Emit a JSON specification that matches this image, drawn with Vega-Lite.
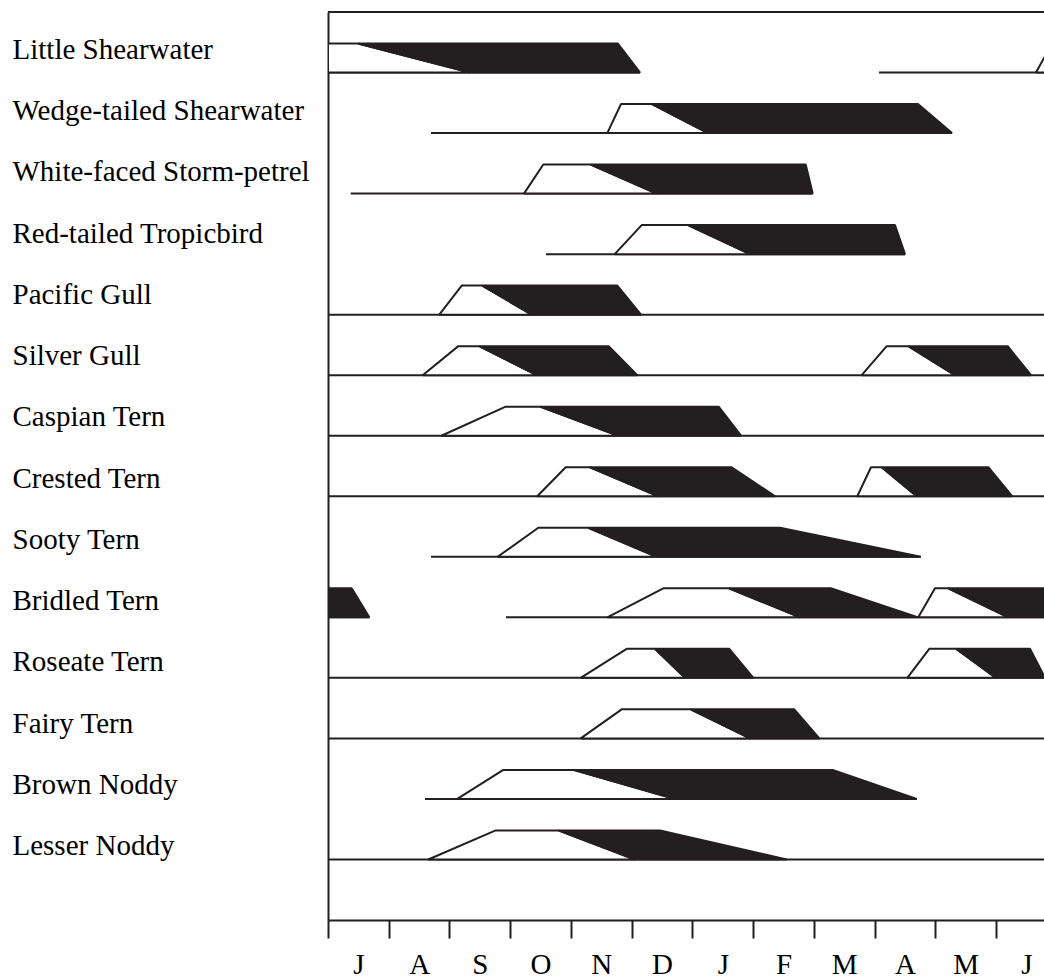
{
  "$schema": "https://vega.github.io/schema/vega-lite/v6.json",
  "width": 716,
  "height": 908,
  "autosize": {"type": "none"},
  "padding": {"left": 328, "top": 12, "right": 0, "bottom": 58},
  "background": "white",
  "config": {"view": {"stroke": null}},
  "datasets": {
    "shapes": [
      {"p": "W0a", "part": "white", "x": 0, "y": 0.52, "y2": 1},
      {"p": "W0a", "part": "white", "x": 0.494, "y": 0.52, "y2": 1},
      {"p": "W0a", "part": "white", "x": 2.338, "y": 1, "y2": 1},
      {"p": "B0a", "part": "black", "x": 0.494, "y": 0.52, "y2": 0.52},
      {"p": "B0a", "part": "black", "x": 2.338, "y": 0.52, "y2": 1},
      {"p": "B0a", "part": "black", "x": 4.77, "y": 0.52, "y2": 1},
      {"p": "B0a", "part": "black", "x": 5.138, "y": 1, "y2": 1},
      {"p": "W0b", "part": "white", "x": 11.658, "y": 1, "y2": 1},
      {"p": "W0b", "part": "white", "x": 11.922, "y": 0.52, "y2": 1},
      {"p": "W0b", "part": "white", "x": 12.5, "y": 0.52, "y2": 1},

      {"p": "W1", "part": "white", "x": 4.599, "y": 2, "y2": 2},
      {"p": "W1", "part": "white", "x": 4.825, "y": 1.52, "y2": 2},
      {"p": "W1", "part": "white", "x": 5.335, "y": 1.52, "y2": 2},
      {"p": "W1", "part": "white", "x": 6.257, "y": 2, "y2": 2},
      {"p": "B1", "part": "black", "x": 5.335, "y": 1.52, "y2": 1.52},
      {"p": "B1", "part": "black", "x": 6.257, "y": 1.52, "y2": 2},
      {"p": "B1", "part": "black", "x": 9.715, "y": 1.52, "y2": 2},
      {"p": "B1", "part": "black", "x": 10.275, "y": 2, "y2": 2},

      {"p": "W2", "part": "white", "x": 3.227, "y": 3, "y2": 3},
      {"p": "W2", "part": "white", "x": 3.545, "y": 2.52, "y2": 3},
      {"p": "W2", "part": "white", "x": 4.326, "y": 2.52, "y2": 3},
      {"p": "W2", "part": "white", "x": 5.412, "y": 3, "y2": 3},
      {"p": "B2", "part": "black", "x": 4.326, "y": 2.52, "y2": 2.52},
      {"p": "B2", "part": "black", "x": 5.412, "y": 2.52, "y2": 3},
      {"p": "B2", "part": "black", "x": 7.866, "y": 2.52, "y2": 3},
      {"p": "B2", "part": "black", "x": 7.981, "y": 3, "y2": 3},

      {"p": "W3", "part": "white", "x": 4.721, "y": 4, "y2": 4},
      {"p": "W3", "part": "white", "x": 5.165, "y": 3.52, "y2": 4},
      {"p": "W3", "part": "white", "x": 5.928, "y": 3.52, "y2": 4},
      {"p": "W3", "part": "white", "x": 6.949, "y": 4, "y2": 4},
      {"p": "B3", "part": "black", "x": 5.928, "y": 3.52, "y2": 3.52},
      {"p": "B3", "part": "black", "x": 6.949, "y": 3.52, "y2": 4},
      {"p": "B3", "part": "black", "x": 9.336, "y": 3.52, "y2": 4},
      {"p": "B3", "part": "black", "x": 9.501, "y": 4, "y2": 4},

      {"p": "W4", "part": "white", "x": 1.833, "y": 5, "y2": 5},
      {"p": "W4", "part": "white", "x": 2.202, "y": 4.52, "y2": 5},
      {"p": "W4", "part": "white", "x": 2.541, "y": 4.52, "y2": 5},
      {"p": "W4", "part": "white", "x": 3.354, "y": 5, "y2": 5},
      {"p": "B4", "part": "black", "x": 2.541, "y": 4.52, "y2": 4.52},
      {"p": "B4", "part": "black", "x": 3.354, "y": 4.52, "y2": 5},
      {"p": "B4", "part": "black", "x": 4.764, "y": 4.52, "y2": 5},
      {"p": "B4", "part": "black", "x": 5.154, "y": 5, "y2": 5},

      {"p": "W5a", "part": "white", "x": 1.559, "y": 6, "y2": 6},
      {"p": "W5a", "part": "white", "x": 2.146, "y": 5.52, "y2": 6},
      {"p": "W5a", "part": "white", "x": 2.491, "y": 5.52, "y2": 6},
      {"p": "W5a", "part": "white", "x": 3.437, "y": 6, "y2": 6},
      {"p": "B5a", "part": "black", "x": 2.491, "y": 5.52, "y2": 5.52},
      {"p": "B5a", "part": "black", "x": 3.437, "y": 5.52, "y2": 6},
      {"p": "B5a", "part": "black", "x": 4.622, "y": 5.52, "y2": 6},
      {"p": "B5a", "part": "black", "x": 5.093, "y": 6, "y2": 6},
      {"p": "W5b", "part": "white", "x": 8.788, "y": 6, "y2": 6},
      {"p": "W5b", "part": "white", "x": 9.2, "y": 5.52, "y2": 6},
      {"p": "W5b", "part": "white", "x": 9.555, "y": 5.52, "y2": 6},
      {"p": "W5b", "part": "white", "x": 10.324, "y": 6, "y2": 6},
      {"p": "B5b", "part": "black", "x": 9.555, "y": 5.52, "y2": 5.52},
      {"p": "B5b", "part": "black", "x": 10.324, "y": 5.52, "y2": 6},
      {"p": "B5b", "part": "black", "x": 11.192, "y": 5.52, "y2": 6},
      {"p": "B5b", "part": "black", "x": 11.576, "y": 6, "y2": 6},

      {"p": "W6", "part": "white", "x": 1.867, "y": 7, "y2": 7},
      {"p": "W6", "part": "white", "x": 2.926, "y": 6.52, "y2": 7},
      {"p": "W6", "part": "white", "x": 3.491, "y": 6.52, "y2": 7},
      {"p": "W6", "part": "white", "x": 4.78, "y": 7, "y2": 7},
      {"p": "B6", "part": "black", "x": 3.491, "y": 6.52, "y2": 6.52},
      {"p": "B6", "part": "black", "x": 4.78, "y": 6.52, "y2": 7},
      {"p": "B6", "part": "black", "x": 6.433, "y": 6.52, "y2": 7},
      {"p": "B6", "part": "black", "x": 6.801, "y": 7, "y2": 7},

      {"p": "W7a", "part": "white", "x": 3.446, "y": 8, "y2": 8},
      {"p": "W7a", "part": "white", "x": 3.914, "y": 7.52, "y2": 8},
      {"p": "W7a", "part": "white", "x": 4.314, "y": 7.52, "y2": 8},
      {"p": "W7a", "part": "white", "x": 5.439, "y": 8, "y2": 8},
      {"p": "B7a", "part": "black", "x": 4.314, "y": 7.52, "y2": 7.52},
      {"p": "B7a", "part": "black", "x": 5.439, "y": 7.52, "y2": 8},
      {"p": "B7a", "part": "black", "x": 6.647, "y": 7.52, "y2": 8},
      {"p": "B7a", "part": "black", "x": 7.361, "y": 8, "y2": 8},
      {"p": "W7b", "part": "white", "x": 8.716, "y": 8, "y2": 8},
      {"p": "W7b", "part": "white", "x": 8.941, "y": 7.52, "y2": 8},
      {"p": "W7b", "part": "white", "x": 9.117, "y": 7.52, "y2": 8},
      {"p": "W7b", "part": "white", "x": 9.694, "y": 8, "y2": 8},
      {"p": "B7b", "part": "black", "x": 9.117, "y": 7.52, "y2": 7.52},
      {"p": "B7b", "part": "black", "x": 9.694, "y": 7.52, "y2": 8},
      {"p": "B7b", "part": "black", "x": 10.873, "y": 7.52, "y2": 8},
      {"p": "B7b", "part": "black", "x": 11.268, "y": 8, "y2": 8},

      {"p": "W8", "part": "white", "x": 2.794, "y": 9, "y2": 9},
      {"p": "W8", "part": "white", "x": 3.463, "y": 8.52, "y2": 9},
      {"p": "W8", "part": "white", "x": 4.286, "y": 8.52, "y2": 9},
      {"p": "W8", "part": "white", "x": 5.412, "y": 9, "y2": 9},
      {"p": "B8", "part": "black", "x": 4.286, "y": 8.52, "y2": 8.52},
      {"p": "B8", "part": "black", "x": 5.412, "y": 8.52, "y2": 9},
      {"p": "B8", "part": "black", "x": 7.443, "y": 8.52, "y2": 9},
      {"p": "B8", "part": "black", "x": 9.76, "y": 9, "y2": 9},

      {"p": "B9a", "part": "black", "x": 0, "y": 9.52, "y2": 10},
      {"p": "B9a", "part": "black", "x": 0.39, "y": 9.52, "y2": 10},
      {"p": "B9a", "part": "black", "x": 0.68, "y": 10, "y2": 10},
      {"p": "W9", "part": "white", "x": 4.599, "y": 10, "y2": 10},
      {"p": "W9", "part": "white", "x": 5.521, "y": 9.52, "y2": 10},
      {"p": "W9", "part": "white", "x": 6.603, "y": 9.52, "y2": 10},
      {"p": "W9", "part": "white", "x": 7.772, "y": 10, "y2": 10},
      {"p": "B9", "part": "black", "x": 6.603, "y": 9.52, "y2": 9.52},
      {"p": "B9", "part": "black", "x": 7.772, "y": 9.52, "y2": 10},
      {"p": "B9", "part": "black", "x": 8.278, "y": 9.52, "y2": 10},
      {"p": "B9", "part": "black", "x": 9.72, "y": 10, "y2": 10},
      {"p": "W9b", "part": "white", "x": 9.72, "y": 10, "y2": 10},
      {"p": "W9b", "part": "white", "x": 9.995, "y": 9.52, "y2": 10},
      {"p": "W9b", "part": "white", "x": 10.214, "y": 9.52, "y2": 10},
      {"p": "W9b", "part": "white", "x": 11.202, "y": 10, "y2": 10},
      {"p": "B9b", "part": "black", "x": 10.214, "y": 9.52, "y2": 9.52},
      {"p": "B9b", "part": "black", "x": 11.202, "y": 9.52, "y2": 10},
      {"p": "B9b", "part": "black", "x": 12.39, "y": 9.52, "y2": 10},
      {"p": "B9b", "part": "black", "x": 12.68, "y": 10, "y2": 10},

      {"p": "W10a", "part": "white", "x": 4.161, "y": 11, "y2": 11},
      {"p": "W10a", "part": "white", "x": 4.918, "y": 10.52, "y2": 11},
      {"p": "W10a", "part": "white", "x": 5.384, "y": 10.52, "y2": 11},
      {"p": "W10a", "part": "white", "x": 5.878, "y": 11, "y2": 11},
      {"p": "B10a", "part": "black", "x": 5.384, "y": 10.52, "y2": 10.52},
      {"p": "B10a", "part": "black", "x": 5.878, "y": 10.52, "y2": 11},
      {"p": "B10a", "part": "black", "x": 6.608, "y": 10.52, "y2": 11},
      {"p": "B10a", "part": "black", "x": 7.003, "y": 11, "y2": 11},
      {"p": "W10b", "part": "white", "x": 9.539, "y": 11, "y2": 11},
      {"p": "W10b", "part": "white", "x": 9.901, "y": 10.52, "y2": 11},
      {"p": "W10b", "part": "white", "x": 10.341, "y": 10.52, "y2": 11},
      {"p": "W10b", "part": "white", "x": 10.999, "y": 11, "y2": 11},
      {"p": "B10b", "part": "black", "x": 10.341, "y": 10.52, "y2": 10.52},
      {"p": "B10b", "part": "black", "x": 10.999, "y": 10.52, "y2": 11},
      {"p": "B10b", "part": "black", "x": 11.559, "y": 10.52, "y2": 11},
      {"p": "B10b", "part": "black", "x": 11.806, "y": 11, "y2": 11},

      {"p": "W11", "part": "white", "x": 4.161, "y": 12, "y2": 12},
      {"p": "W11", "part": "white", "x": 4.836, "y": 11.52, "y2": 12},
      {"p": "W11", "part": "white", "x": 5.972, "y": 11.52, "y2": 12},
      {"p": "W11", "part": "white", "x": 6.949, "y": 12, "y2": 12},
      {"p": "B11", "part": "black", "x": 5.972, "y": 11.52, "y2": 11.52},
      {"p": "B11", "part": "black", "x": 6.949, "y": 11.52, "y2": 12},
      {"p": "B11", "part": "black", "x": 7.678, "y": 11.52, "y2": 12},
      {"p": "B11", "part": "black", "x": 8.09, "y": 12, "y2": 12},

      {"p": "W12", "part": "white", "x": 2.129, "y": 13, "y2": 13},
      {"p": "W12", "part": "white", "x": 2.887, "y": 12.52, "y2": 13},
      {"p": "W12", "part": "white", "x": 4.039, "y": 12.52, "y2": 13},
      {"p": "W12", "part": "white", "x": 5.714, "y": 13, "y2": 13},
      {"p": "B12", "part": "black", "x": 4.039, "y": 12.52, "y2": 12.52},
      {"p": "B12", "part": "black", "x": 5.714, "y": 12.52, "y2": 13},
      {"p": "B12", "part": "black", "x": 8.311, "y": 12.52, "y2": 13},
      {"p": "B12", "part": "black", "x": 9.694, "y": 13, "y2": 13},

      {"p": "W13", "part": "white", "x": 1.652, "y": 14, "y2": 14},
      {"p": "W13", "part": "white", "x": 2.761, "y": 13.52, "y2": 14},
      {"p": "W13", "part": "white", "x": 3.792, "y": 13.52, "y2": 14},
      {"p": "W13", "part": "white", "x": 5.055, "y": 14, "y2": 14},
      {"p": "B13", "part": "black", "x": 3.792, "y": 13.52, "y2": 13.52},
      {"p": "B13", "part": "black", "x": 5.055, "y": 13.52, "y2": 14},
      {"p": "B13", "part": "black", "x": 5.467, "y": 13.52, "y2": 14},
      {"p": "B13", "part": "black", "x": 7.553, "y": 14, "y2": 14}
    ],
    "base": [
      {"x": 0, "x2": 5.138, "y": 1},
      {"x": 9.073, "x2": 12.5, "y": 1},
      {"x": 1.696, "x2": 10.275, "y": 2},
      {"x": 0.374, "x2": 7.981, "y": 3},
      {"x": 3.59, "x2": 9.501, "y": 4},
      {"x": 0, "x2": 12.5, "y": 5},
      {"x": 0, "x2": 12.5, "y": 6},
      {"x": 0, "x2": 12.5, "y": 7},
      {"x": 0, "x2": 12.5, "y": 8},
      {"x": 1.696, "x2": 9.76, "y": 9},
      {"x": 0, "x2": 0.68, "y": 10},
      {"x": 2.931, "x2": 12.5, "y": 10},
      {"x": 0, "x2": 12.5, "y": 11},
      {"x": 0, "x2": 12.5, "y": 12},
      {"x": 1.597, "x2": 9.694, "y": 13},
      {"x": 0, "x2": 12.5, "y": 14}
    ],
    "frame": [{"y": 0}]
  },
  "layer": [
    {
      "data": {"name": "base"},
      "mark": {"type": "rule", "color": "#231f20", "strokeWidth": 2, "clip": true},
      "encoding": {
        "x": {"field": "x", "type": "quantitative", "title": null},
        "x2": {"field": "x2"},
        "y": {"field": "y", "type": "quantitative", "title": null}
      }
    },
    {
      "data": {"name": "shapes"},
      "mark": {"type": "area", "orient": "vertical", "stroke": "#231f20", "strokeWidth": 2, "strokeJoin": "bevel", "fillOpacity": 1, "clip": true},
      "encoding": {
        "x": {
          "field": "x", "type": "quantitative", "title": null,
          "scale": {"domain": [0, 11.79], "nice": false, "zero": false},
          "axis": {
            "values": [0, 1, 2, 3, 4, 5, 6, 7, 8, 9, 10, 11],
            "labelExpr": "['J','A','S','O','N','D','J','F','M','A','M','J'][datum.value]",
            "labelOffset": 30.4,
            "labelFlush": false,
            "labelOverlap": false,
            "labelBound": false,
            "labelFont": "Liberation Serif",
            "labelFontSize": 29,
            "labelColor": "#000000",
            "labelPadding": 12,
            "tickSize": 18,
            "tickWidth": 2,
            "tickColor": "#231f20",
            "domainWidth": 2,
            "domainColor": "#231f20",
            "grid": false
          }
        },
        "y": {
          "field": "y", "type": "quantitative", "title": null, "stack": null,
          "scale": {"domain": [0, 15], "reverse": true, "nice": false, "zero": false},
          "axis": {
            "values": [0.768, 1.78, 2.791, 3.803, 4.814, 5.826, 6.838, 7.849, 8.861, 9.872, 10.884, 11.896, 12.907, 13.919],
            "labelExpr": "['Little Shearwater','Wedge-tailed Shearwater','White-faced Storm-petrel','Red-tailed Tropicbird','Pacific Gull','Silver Gull','Caspian Tern','Crested Tern','Sooty Tern','Bridled Tern','Roseate Tern','Fairy Tern','Brown Noddy','Lesser Noddy'][floor(datum.value)]",
            "labelAlign": "left",
            "labelBaseline": "alphabetic",
            "labelPadding": 316,
            "labelLimit": 400,
            "labelOverlap": false,
            "labelBound": false,
            "labelFlush": false,
            "labelFont": "Liberation Serif",
            "labelFontSize": 29,
            "labelColor": "#000000",
            "ticks": false,
            "domainWidth": 2,
            "domainColor": "#231f20",
            "grid": false
          }
        },
        "y2": {"field": "y2"},
        "detail": {"field": "p", "type": "nominal"},
        "color": {
          "field": "part", "type": "nominal", "legend": null,
          "scale": {"domain": ["white", "black"], "range": ["#ffffff", "#231f20"]}
        }
      }
    },
    {
      "data": {"name": "frame"},
      "mark": {"type": "rule", "color": "#231f20", "strokeWidth": 2},
      "encoding": {"y": {"field": "y", "type": "quantitative", "title": null}}
    }
  ]
}
